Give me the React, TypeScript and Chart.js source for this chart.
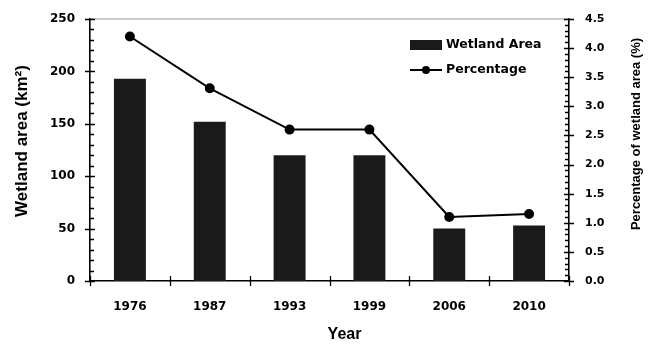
import React, { useEffect, useRef } from "react";
import { Chart, registerables } from "chart.js";

Chart.register(...registerables);

const years = ["1976", "1987", "1993", "1999", "2006", "2010"];
const wetlandArea = [193, 152, 120, 120, 50, 53];
const percentage = [4.2, 3.31, 2.6, 2.6, 1.1, 1.15];

const areaLabel = "Wetland Area";
const pctLabel = "Percentage";
const leftTitle = "Wetland area (km²)";
const rightTitle = "Percentage of wetland area (%)";
const xTitle = "Year";

const TICK_FONT = "'DejaVu Sans', Verdana, sans-serif";
const TITLE_FONT = "'Liberation Sans', Arial, sans-serif";

const decorPlugin = {
  id: "decor",
  afterDatasetsDraw(chart: any) {
    const { ctx, chartArea } = chart;
    const { left, right, top, bottom } = chartArea;
    const x = chart.scales.x;
    const y = chart.scales.y;
    const y1 = chart.scales.y1;
    ctx.save();
    // top border
    ctx.strokeStyle = "#9a9a9a";
    ctx.lineWidth = 1.2;
    ctx.beginPath();
    ctx.moveTo(left, top);
    ctx.lineTo(right, top);
    ctx.stroke();

    ctx.strokeStyle = "#000";
    ctx.lineWidth = 1.3;
    ctx.beginPath();
    // left axis ticks
    for (let v = 0; v <= 250; v += 10) {
      const py = Math.round(y.getPixelForValue(v)) + 0.5;
      if (v % 50 === 0) {
        ctx.moveTo(left - 5, py);
        ctx.lineTo(left + 5, py);
      } else {
        ctx.moveTo(left, py);
        ctx.lineTo(left + 4, py);
      }
    }
    // right axis ticks
    for (let i = 0; i <= 45; i++) {
      const py = Math.round(y1.getPixelForValue(i / 10)) + 0.5;
      if (i % 5 === 0) {
        ctx.moveTo(right - 5, py);
        ctx.lineTo(right + 5, py);
      } else {
        ctx.moveTo(right - 4, py);
        ctx.lineTo(right, py);
      }
    }
    // x category boundaries
    const n = years.length;
    for (let i = 0; i <= n; i++) {
      let px;
      if (i === 0) px = left;
      else if (i === n) px = right;
      else px = (x.getPixelForValue(i - 1) + x.getPixelForValue(i)) / 2;
      px = Math.round(px) + 0.5;
      ctx.moveTo(px, bottom - 5);
      ctx.lineTo(px, bottom + 5);
    }
    ctx.stroke();

    // axis titles
    ctx.fillStyle = "#000";
    ctx.textAlign = "center";
    ctx.textBaseline = "middle";
    ctx.save();
    ctx.translate(22, 141);
    ctx.rotate(-Math.PI / 2);
    ctx.font = `bold 17px ${TITLE_FONT}`;
    ctx.fillText(leftTitle, 0, 0);
    ctx.restore();

    ctx.save();
    ctx.translate(636, 134);
    ctx.rotate(-Math.PI / 2);
    ctx.font = `bold 13px ${TITLE_FONT}`;
    ctx.fillText(rightTitle, 0, 0);
    ctx.restore();

    ctx.font = `bold 16px ${TITLE_FONT}`;
    ctx.fillText(xTitle, (left + right) / 2 + 15, 335);

    // legend
    const ds = chart.data.datasets;
    const sx = right - 159;
    const sw = 32;
    const r1 = top + 26;
    const r2 = top + 51;
    ctx.fillStyle = ds[0].backgroundColor;
    ctx.fillRect(sx, r1 - 5, sw, 10);
    ctx.strokeStyle = ds[1].borderColor;
    ctx.lineWidth = 2;
    ctx.beginPath();
    ctx.moveTo(sx, r2);
    ctx.lineTo(sx + sw, r2);
    ctx.stroke();
    ctx.fillStyle = ds[1].pointBackgroundColor;
    ctx.beginPath();
    ctx.arc(sx + sw / 2, r2, 4, 0, Math.PI * 2);
    ctx.fill();
    ctx.fillStyle = "#000";
    ctx.textAlign = "left";
    ctx.font = `bold 12.5px ${TICK_FONT}`;
    ctx.fillText(ds[0].label, sx + sw + 4, r1);
    ctx.fillText(ds[1].label, sx + sw + 4, r2);
    ctx.restore();
  },
};

const fixVertical = (w: number) => (s: any) => {
  s.width = w;
  s.paddingTop = 0;
  s.paddingBottom = 0;
};

export default function App() {
  const ref = useRef<HTMLCanvasElement>(null);
  useEffect(() => {
    document.body.style.margin = "0";
    const chart = new Chart(ref.current!, {
      type: "bar",
      data: {
        labels: years,
        datasets: [
          {
            type: "bar",
            label: areaLabel,
            data: wetlandArea,
            backgroundColor: "#1a1a1a",
            borderWidth: 0,
            yAxisID: "y",
            barPercentage: 0.4,
            categoryPercentage: 1,
            order: 1,
          } as any,
          {
            type: "line",
            label: pctLabel,
            data: percentage,
            borderColor: "#000",
            borderWidth: 2,
            pointRadius: 4,
            pointBackgroundColor: "#000",
            pointBorderColor: "#000",
            tension: 0,
            yAxisID: "y1",
            order: 0,
          } as any,
        ],
      },
      options: {
        responsive: false,
        animation: false,
        layout: { padding: { top: 19, left: 0, right: 0, bottom: 0 } },
        plugins: { legend: { display: false }, tooltip: { enabled: false } },
        scales: {
          x: {
            grid: { display: false, drawTicks: false },
            border: { display: true, color: "#000", width: 1.6 },
            ticks: {
              color: "#000",
              font: { family: TICK_FONT, weight: "bold", size: 12 },
              padding: 19,
              maxRotation: 0,
            },
            afterFit: (s: any) => {
              s.height = 63;
              s.paddingLeft = 0;
              s.paddingRight = 0;
            },
          },
          y: {
            position: "left",
            min: 0,
            max: 250,
            grid: { display: false, drawTicks: false },
            border: { display: true, color: "#000", width: 1.6 },
            ticks: {
              stepSize: 50,
              color: "#000",
              font: { family: TICK_FONT, weight: "bold", size: 12 },
              padding: 15,
            },
            afterFit: fixVertical(90),
          },
          y1: {
            position: "right",
            min: 0,
            max: 4.5,
            grid: { display: false, drawTicks: false },
            border: { display: true, color: "#000", width: 1.6 },
            ticks: {
              stepSize: 0.5,
              color: "#000",
              font: { family: TICK_FONT, weight: "bold", size: 11 },
              padding: 16,
              callback: (v: any) => Number(v).toFixed(1),
            },
            afterFit: fixVertical(80),
          },
        },
      } as any,
      plugins: [decorPlugin],
    });
    return () => chart.destroy();
  }, []);
  return (
    <div style={{ width: 649, height: 344 }}>
      <canvas ref={ref} width={649} height={344} />
    </div>
  );
}
